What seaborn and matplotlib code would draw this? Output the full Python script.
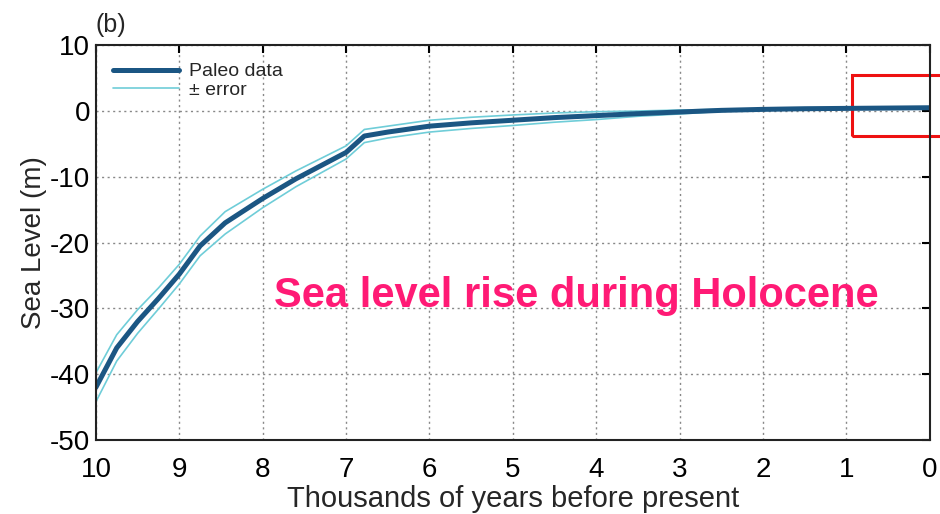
import matplotlib
matplotlib.use("Agg")
import matplotlib.pyplot as plt
import seaborn as sns
import pandas as pd
import numpy as np
from matplotlib.patches import Rectangle

years = [10, 9.75, 9.5, 9.25, 9.0, 8.75, 8.45, 8.0, 7.6, 7.3, 7.0, 6.78, 6.5, 6.0,
         5.5, 5.0, 4.5, 4.0, 3.5, 3.0, 2.5, 2.0, 1.5, 1.0, 0.5, 0.0]
level = [-42, -36, -32, -28.5, -24.8, -20.5, -17, -13.3, -10.3, -8.3, -6.3, -3.8, -3.2, -2.3,
         -1.8, -1.4, -1.0, -0.7, -0.4, -0.15, 0.1, 0.25, 0.35, 0.4, 0.45, 0.5]
err = [2.2, 2.0, 1.8, 1.6, 1.5, 1.5, 1.7, 1.4, 1.2, 1.1, 1.0, 1.0, 0.9, 0.9,
       0.85, 0.8, 0.7, 0.6, 0.4, 0.3, 0.15, 0.1, 0.05, 0.05, 0.05, 0.05]
x_ticks = [10, 9, 8, 7, 6, 5, 4, 3, 2, 1, 0]
y_ticks = [10, 0, -10, -20, -30, -40, -50]

sns.set_theme(style="white")
plt.rcParams['font.family'] = ['Liberation Sans', 'DejaVu Sans']

df = pd.DataFrame({"years": years, "level": level, "err": err})
df["upper"] = df["level"] + df["err"]
df["lower"] = df["level"] - df["err"]

fig = plt.figure(figsize=(9.4, 5.14), dpi=100)
ax = fig.add_axes([0.102, 0.144, 0.887, 0.768])

dark = "#1b5683"
light = "#6fcdd8"
sns.lineplot(data=df, x="years", y="upper", ax=ax, color=light, lw=1.2, label="\u00b1 error", sort=False)
sns.lineplot(data=df, x="years", y="lower", ax=ax, color=light, lw=1.2, sort=False)
sns.lineplot(data=df, x="years", y="level", ax=ax, color=dark, lw=3.6, label="Paleo data", sort=False)

ax.set_xlim(10, 0)
ax.set_ylim(-50, 10)
ax.set_xticks(x_ticks)
ax.set_yticks(y_ticks)
ax.set_xticklabels([str(t) for t in x_ticks])
ax.set_yticklabels([str(t) for t in y_ticks])
ax.grid(True, linestyle=(0, (1.5, 2.5)), color="#888888", lw=1.0)
ax.tick_params(direction="in", length=6, width=1.5, top=True, right=True,
               labelsize=20, colors="black")
ax.tick_params(axis="x", pad=12)
ax.tick_params(axis="y", pad=4)
for s in ax.spines.values():
    s.set_color("#222222")
    s.set_linewidth(1.5)

ax.set_xlabel("Thousands of years before present", fontsize=21, labelpad=2)
ax.set_ylabel("Sea Level (m)", fontsize=20, labelpad=2)

h, l = ax.get_legend_handles_labels()
order = [l.index("Paleo data"), l.index("\u00b1 error")]
leg = ax.legend([h[i] for i in order], [l[i] for i in order], loc="upper left",
                frameon=False, fontsize=14, handlelength=3.4, handletextpad=0.5,
                labelspacing=0.05, borderaxespad=0.5, bbox_to_anchor=(0.0, 1.0))

ax.text(0.0, 1.02, "(b)", transform=ax.transAxes, fontsize=18, ha="left", va="bottom")

ax.text(0.576, 0.365, "Sea level rise during Holocene", transform=ax.transAxes,
        fontsize=30, fontweight="bold", color="#ff1a75", ha="center", va="center")

rect = Rectangle((0.93, -3.8), -1.07, 9.3, fill=False, edgecolor="#ee1111", lw=2.2, clip_on=False)
ax.add_patch(rect)

fig.savefig("out.png", dpi=100)
